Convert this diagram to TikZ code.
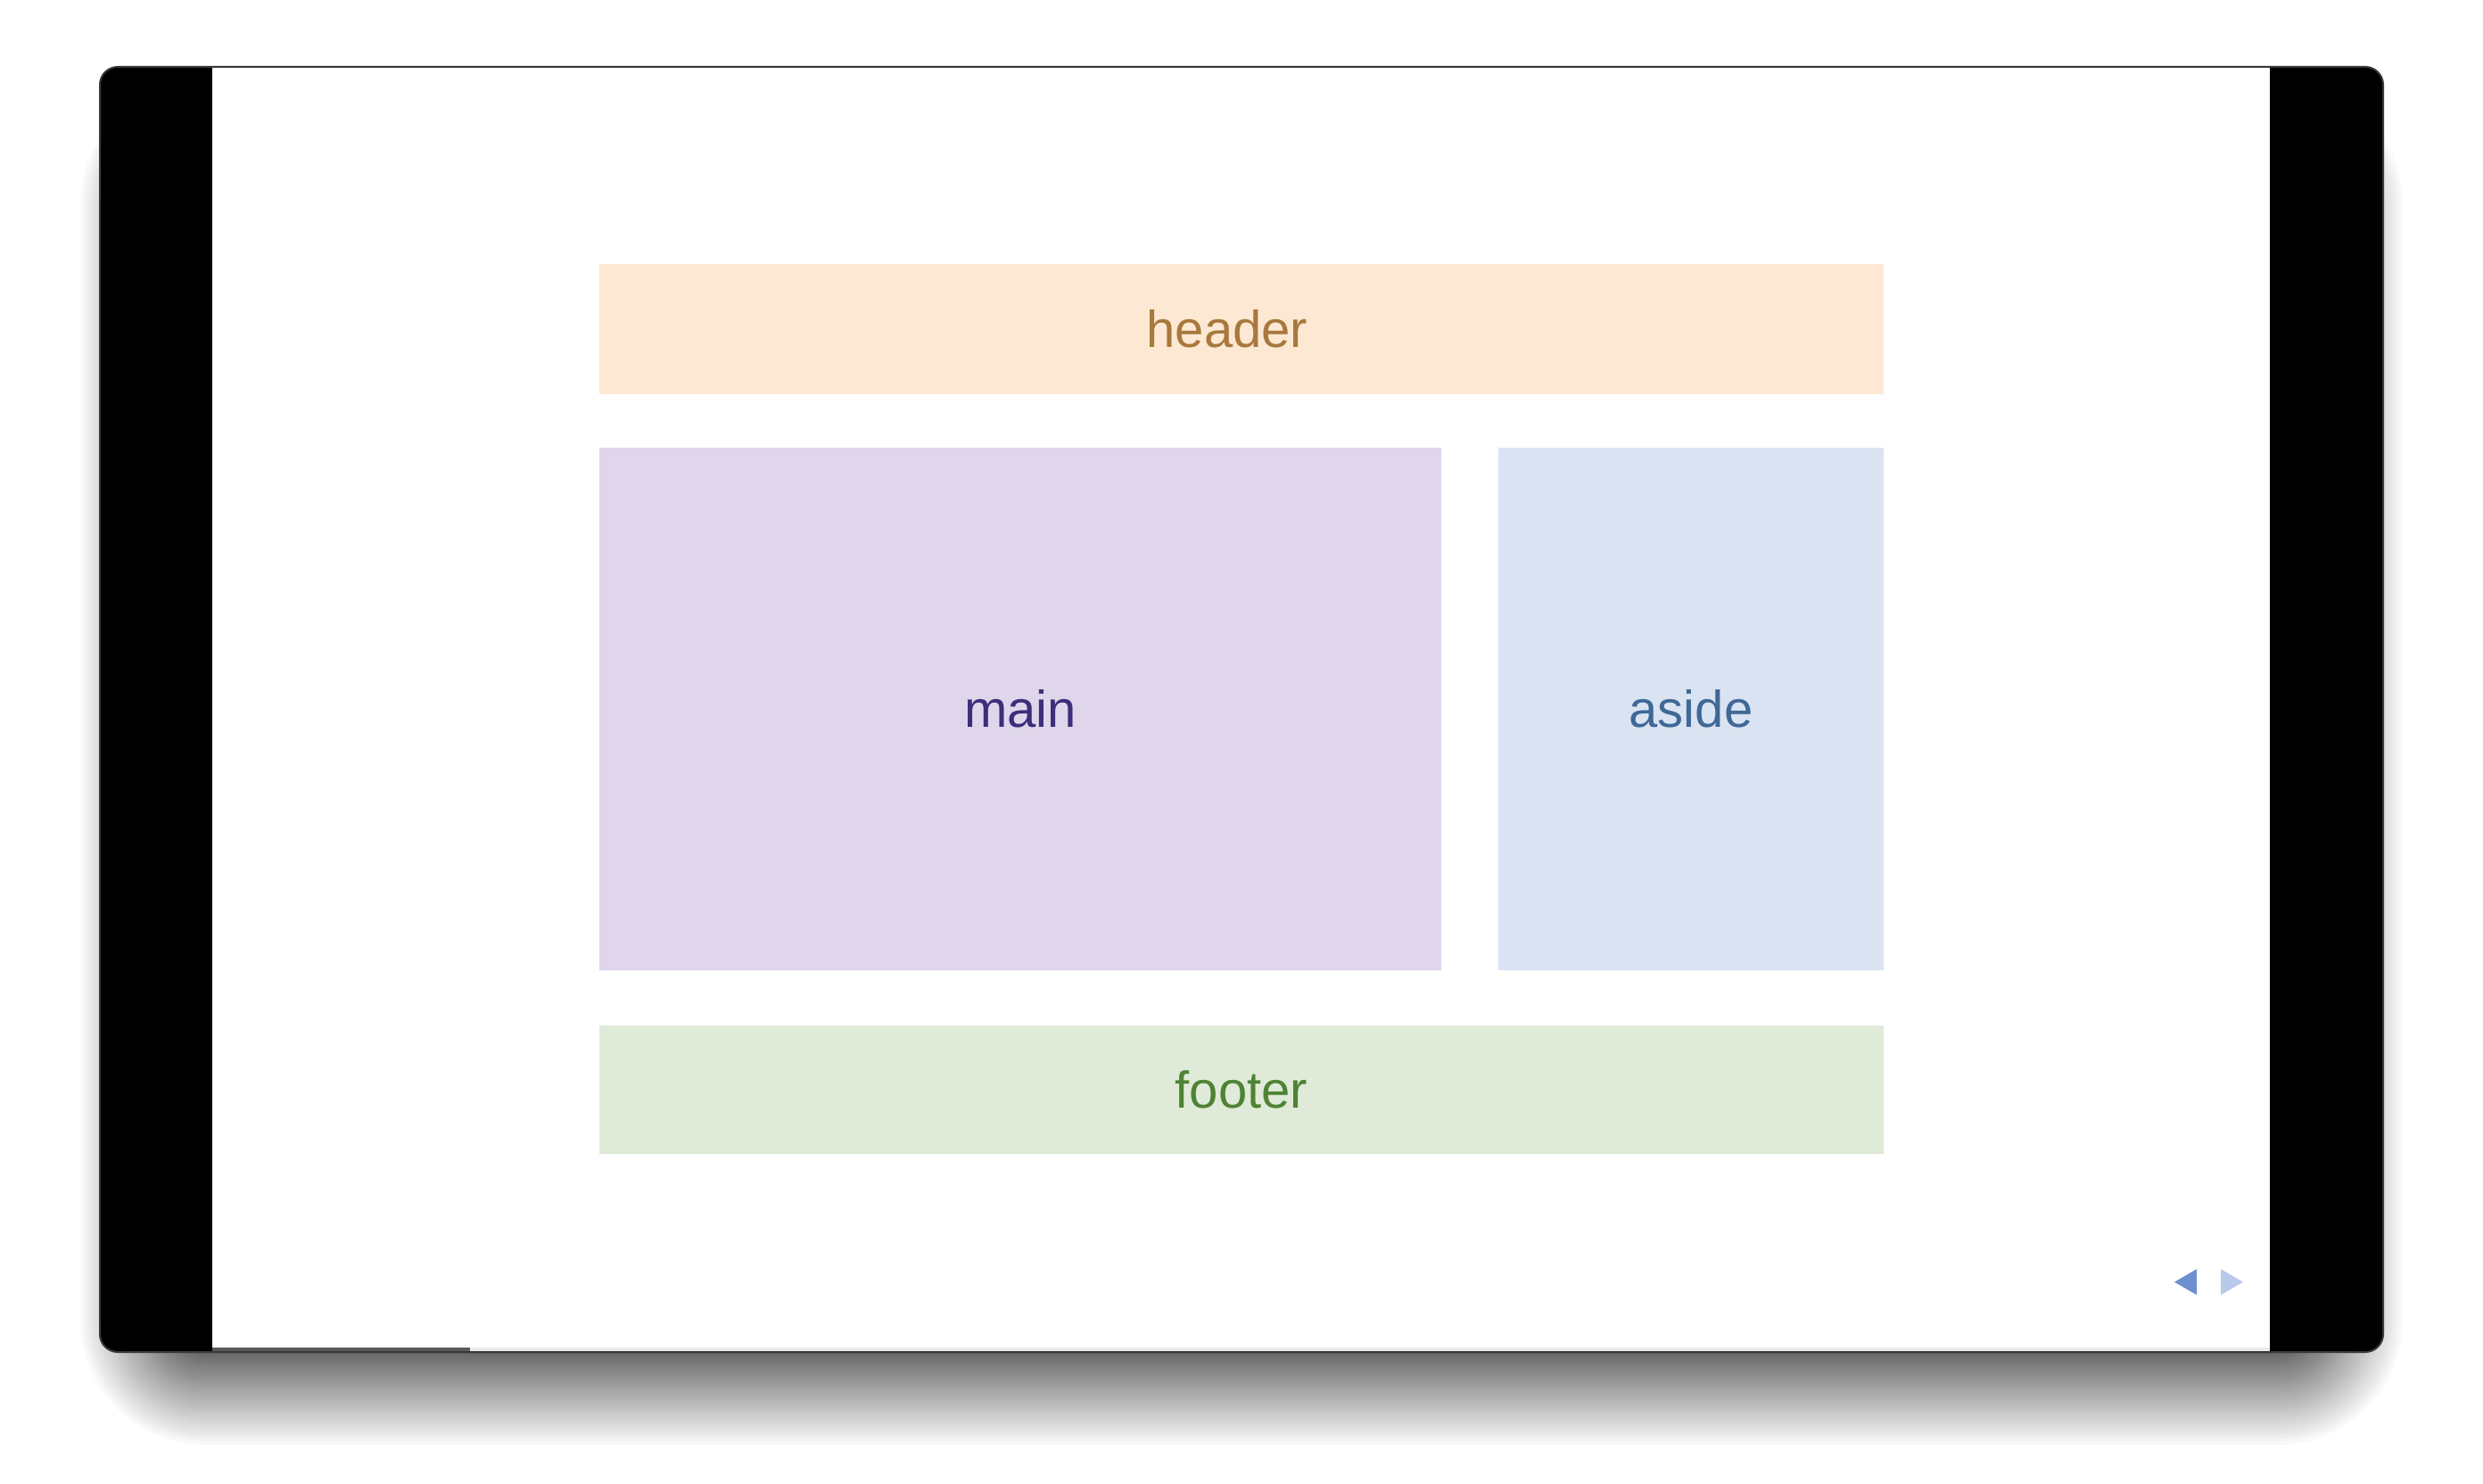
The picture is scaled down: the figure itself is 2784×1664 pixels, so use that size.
\documentclass[tikz,border=0pt]{standalone}
\usepackage{fontspec}
\setmainfont{Liberation Sans}
\definecolor{hdrfill}{HTML}{FCE8D3}
\definecolor{hdrtext}{HTML}{A8783C}
\definecolor{mainfill}{HTML}{DFD6EB}
\definecolor{maintext}{HTML}{3E2D7A}
\definecolor{asidefill}{HTML}{DAE3F2}
\definecolor{asidetext}{HTML}{3F6897}
\definecolor{footfill}{HTML}{DFEAD8}
\definecolor{foottext}{HTML}{4E8334}
\definecolor{navdark}{HTML}{6B8FCF}
\definecolor{navlight}{HTML}{B8C9EA}
\tikzset{
  slot/.style={inner sep=0pt, outer sep=0pt, font=\fontsize{16.5}{20}\selectfont},
  slottext/.style={inner sep=0pt, font=\fontsize{16.5}{20}\selectfont}
}

\begin{document}
\begin{tikzpicture}[x=0.01cm, y=-0.01cm]
			%%%%% START %%%%%
			\useasboundingbox (0, 0) rectangle (2784, 1664);
			
			\foreach \k [evaluate=\k as \r using \k*\k/30] in {1,...,60}
				\fill[black, opacity=0.022, rounded corners=0.2cm+\r*0.01cm] ({210-\r}, {210-\r}) rectangle ({2574+\r}, {1500+\r});
			
			\fill[black, rounded corners=0.2cm] (112, 75) rectangle (2672, 1516);
			\fill[white] (238, 76) rectangle (2545, 1515);
			\fill[black!8] (527, 1511) rectangle (2545, 1515);
			\fill[black!65] (238, 1511) rectangle (527, 1515);
			\draw[line width=0.02cm, color=black!78, rounded corners=0.2cm] (112, 75) rectangle (2672, 1516);
			
			\node[slot, fill=hdrfill, minimum width=14.40cm, minimum height=1.46cm] (header) at (1392, 369) {};
			\node[slottext, text=hdrtext] (headerlabel) at ([xshift=-0.16cm]header.center) {header};
			
			\node[slot, fill=mainfill, text=maintext, minimum width=9.44cm, minimum height=5.86cm] (main) at (1144, 795) {main};
			\node[slot, fill=asidefill, text=asidetext, minimum width=4.32cm, minimum height=5.86cm] (aside) at (1896, 795) {aside};
			
			\node[slot, fill=footfill, text=foottext, minimum width=14.40cm, minimum height=1.44cm] (footer) at (1392, 1222) {footer};
			
			\fill[navdark] (2463, 1423) -- (2463, 1452) -- (2438, 1437.5) -- cycle;
			\fill[navlight] (2490, 1423) -- (2490, 1452) -- (2515, 1437.5) -- cycle;
			
			%%%%% END %%%%%
\end{tikzpicture}
\end{document}
